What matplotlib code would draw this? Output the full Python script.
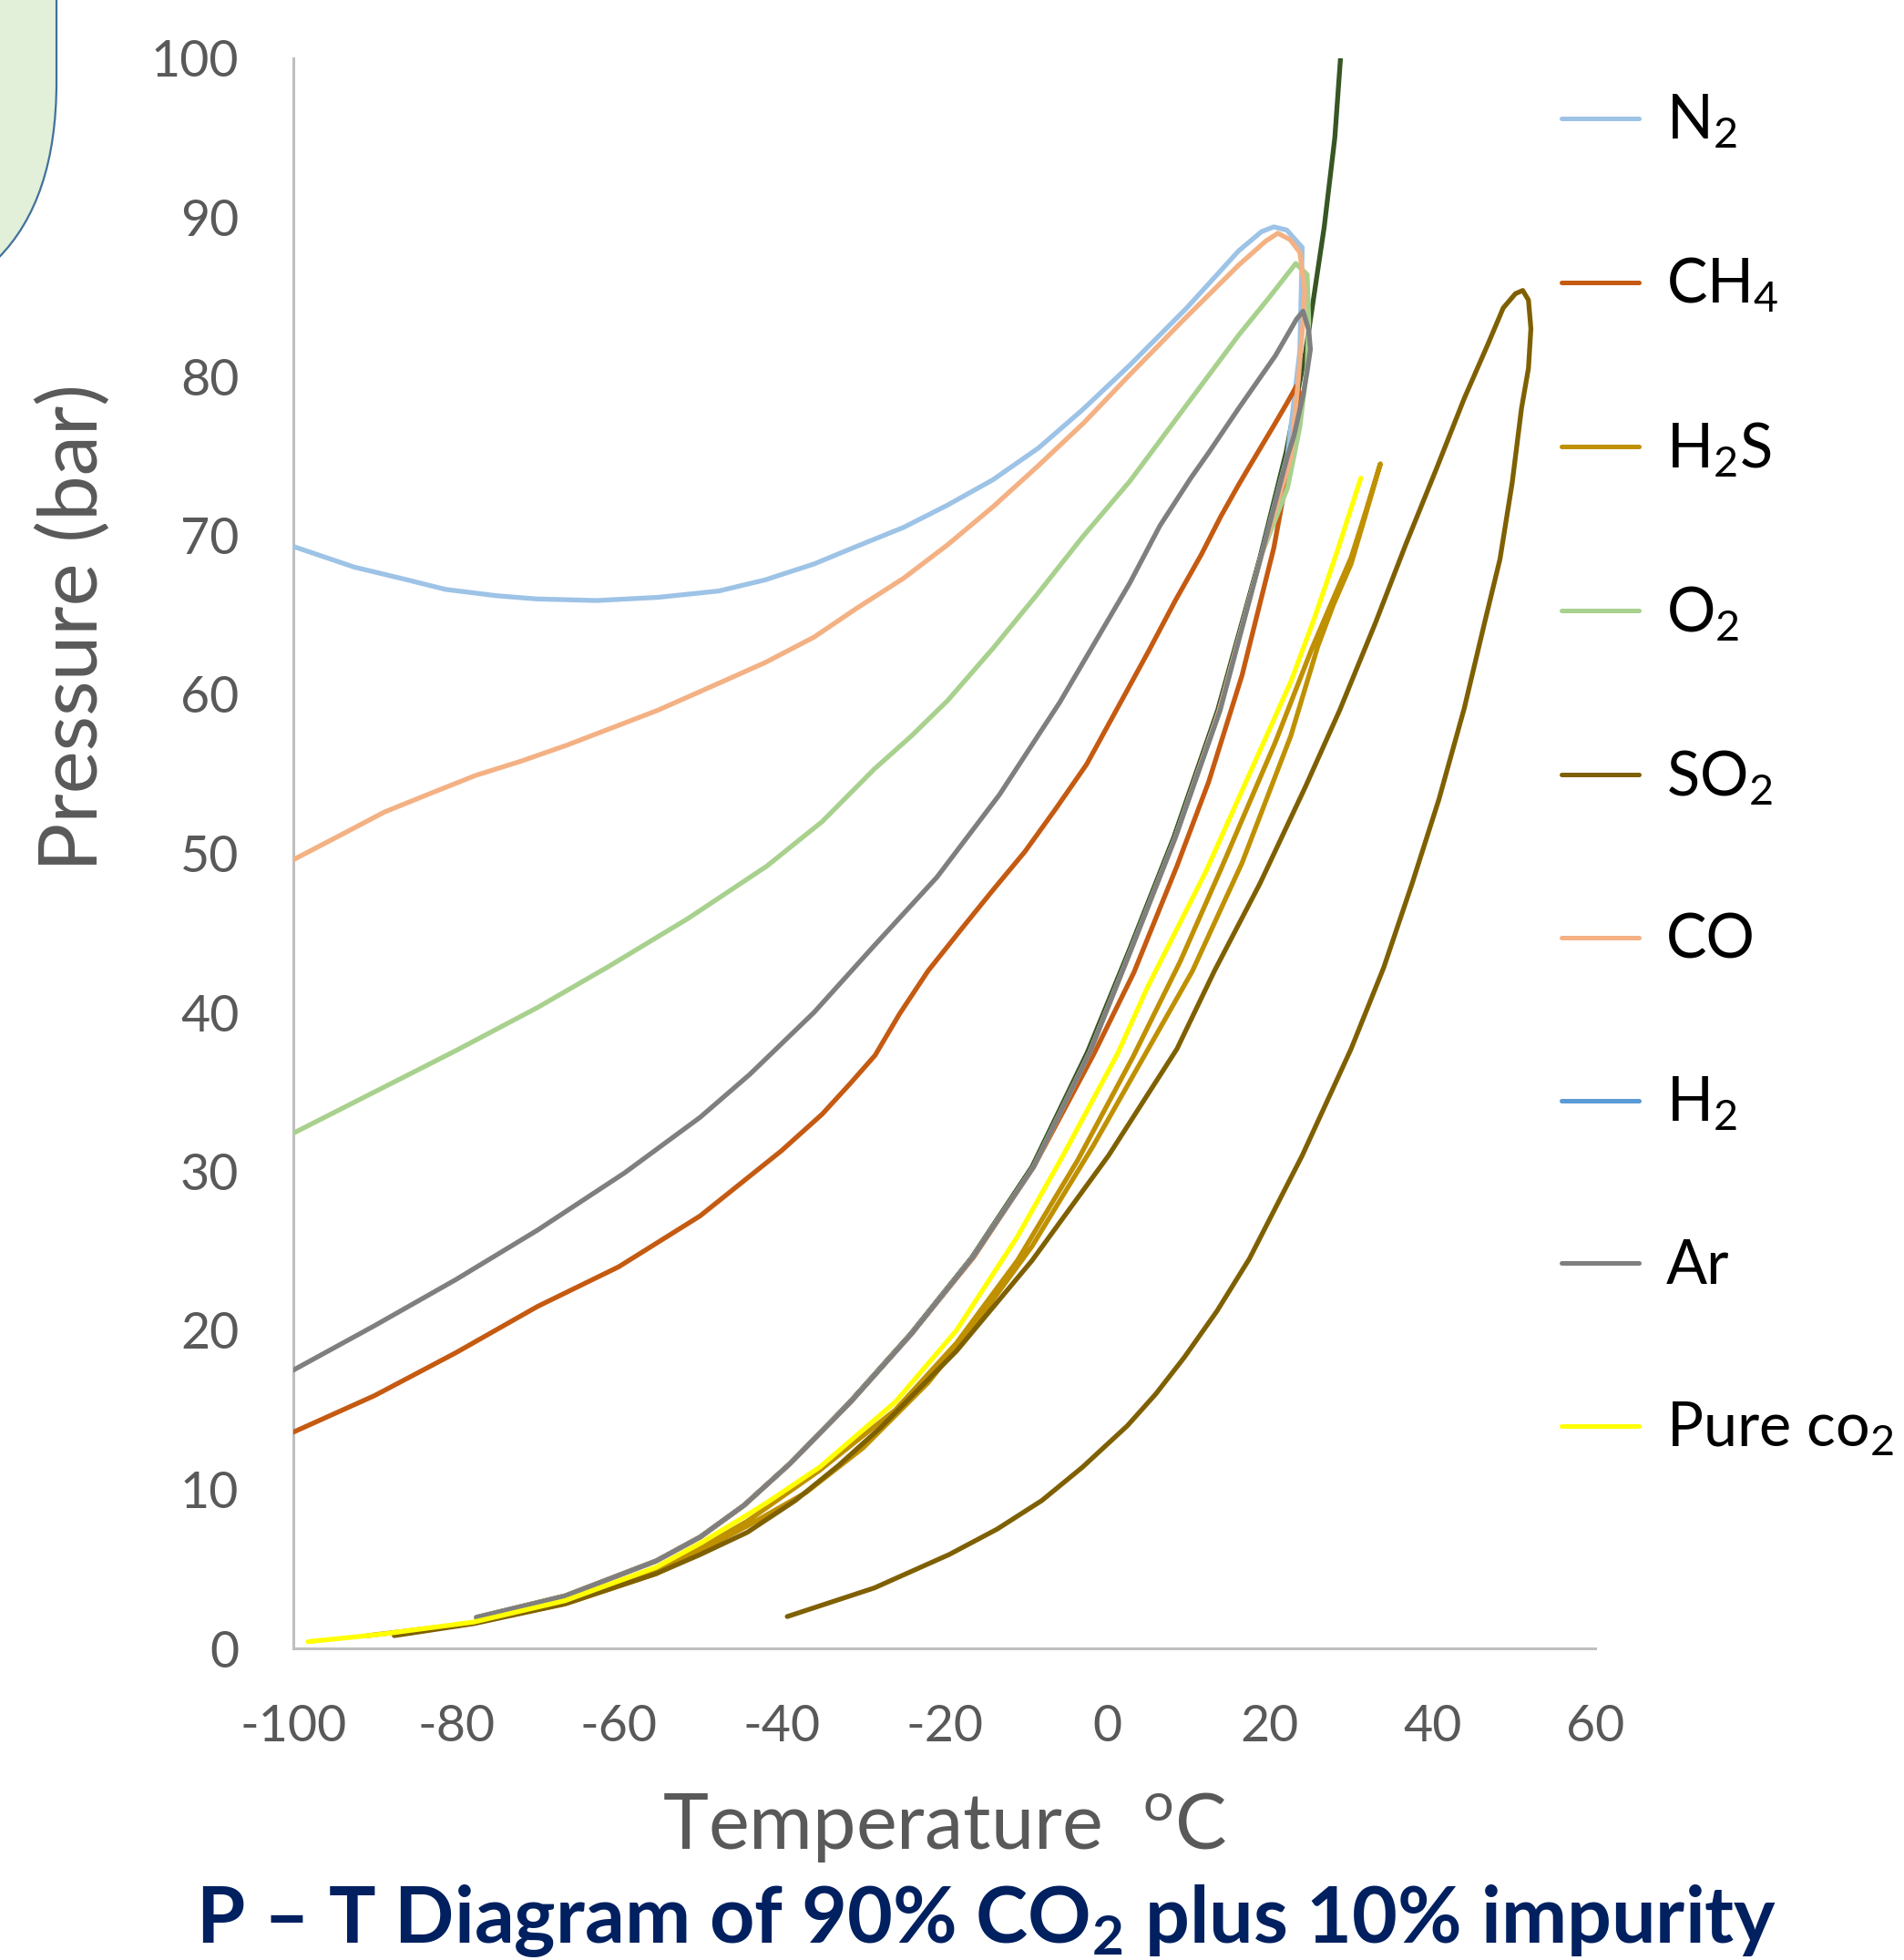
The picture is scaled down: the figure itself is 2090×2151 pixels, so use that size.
import matplotlib
matplotlib.use("Agg")
import matplotlib.pyplot as plt
from matplotlib.patches import FancyBboxPatch
from matplotlib.transforms import IdentityTransform

plt.rcParams['font.family'] = ['Lato', 'DejaVu Sans']
plt.rcParams['mathtext.fontset'] = 'custom'
plt.rcParams['mathtext.rm'] = 'Lato'
plt.rcParams['mathtext.it'] = 'Lato:italic'
plt.rcParams['mathtext.bf'] = 'Lato:bold'
plt.rcParams['axes.unicode_minus'] = False

# ---------------- data (temperature in degC, pressure in bar) ----------------
N2_T = [-100, -92.5, -86, -81.3, -75, -70.1, -62.7, -55.2, -47.7, -42.0, -36.0, -30.8, -25.0, -19.6, -14.0, -8.4,
        -3.0, 2.8, 9.8, 16.2, 19.0, 20.5, 22.1, 24.0, 23.7, 22.2, 18.9, 13.8, 8.4, 3.0, -2.1, -9.0, -16.5, -24.0,
        -31.5, -39.0, -44.6, -50.0, -55.4, -66.6, -77.5]
N2_P = [69.3, 68.0, 67.2, 66.6, 66.2, 66.0, 65.9, 66.1, 66.5, 67.2, 68.2, 69.3, 70.5, 71.9, 73.5, 75.5,
        77.9, 80.7, 84.3, 87.9, 89.1, 89.4, 89.2, 88.1, 81.6, 75.1, 68.6, 59.0, 51.0, 44.0, 37.5, 30.3, 24.6, 19.8,
        15.5, 11.6, 9.0, 7.0, 5.5, 3.3, 1.95]

CH4_T = [-100, -90, -80, -70, -60, -50, -40, -35.0, -31.6, -28.5, -25.5, -22.0, -17.8, -14.0, -10.1, -6.3, -2.5,
         2.0, 5.2, 8.4, 11.6, 14.0, 16.2, 17.7, 20.5, 22.1, 23.3, 23.7, 22.6, 20.5, 16.6, 12.5, 8.6, 3.3, -1.6,
         -9.0, -16.4, -24.0, -31.5, -39.0, -44.6, -50.0, -55.4, -66.6, -77.0]
CH4_P = [13.6, 15.9, 18.6, 21.5, 24.0, 27.2, 31.3, 33.6, 35.5, 37.3, 39.9, 42.6, 45.3, 47.7, 50.1, 52.8, 55.6,
         59.8, 62.8, 65.9, 68.8, 71.2, 73.2, 74.5, 76.9, 78.3, 79.4, 78.9, 75.0, 69.2, 61.2, 54.5, 49.2, 42.5, 37.4,
         30.3, 24.6, 19.8, 15.5, 11.6, 9.0, 7.0, 5.5, 3.3, 2.0]

H2S_T = [-90.9, -77.8, -66.6, -55.4, -50.0, -44.2, -35.3, -26.0, -18.5, -11.0, -3.6, 3.2, 9.0, 14.0, 20.7, 25.2,
         27.8, 30.0, 31.5, 33.6, 31.5, 30.0, 27.8, 25.9, 22.6, 16.6, 10.5, 4.85, -1.7, -9.2, -15.9, -22.0, -30.0,
         -37.0, -44.2, -55.4, -66.6, -80.0]
H2S_P = [0.8, 1.6, 2.9, 4.9, 6.3, 8.0, 11.2, 15.0, 19.2, 24.4, 30.7, 37.2, 43.2, 49.0, 57.0, 62.9,
         66.0, 68.6, 71.0, 74.5, 70.8, 68.2, 65.6, 63.0, 57.4, 49.4, 42.6, 37.5, 31.6, 25.3, 20.6, 16.7, 12.6,
         9.8, 7.7, 4.7, 2.8, 1.4]

O2_T = [-100, -90, -80, -70, -61.2, -51.5, -41.8, -35.0, -28.6, -24.0, -19.6, -14.0, -8.4, -3.0, 2.8, 9.5, 16.2,
        20.0, 23.2, 24.6, 24.8, 24.6, 23.7, 22.2, 19.0, 13.9, 8.4, 3.0, -2.1, -9.0, -16.5, -24.0, -31.5, -39.0,
        -44.6, -50.0, -55.4, -66.6, -77.5]
O2_P = [32.4, 35.0, 37.6, 40.3, 42.9, 45.9, 49.2, 52.0, 55.3, 57.4, 59.6, 62.9, 66.4, 69.9, 73.4, 78.0, 82.6,
        85.0, 87.1, 86.4, 83.5, 80.6, 76.8, 73.0, 68.8, 59.0, 51.0, 44.0, 37.5, 30.3, 24.6, 19.8, 15.5, 11.6,
        9.0, 7.0, 5.5, 3.3, 1.95]

SO2_T = [-87.6, -77.8, -66.6, -55.4, -50.0, -44.2, -38.3, -33.0, -27.8, -18.5, -9.2, 0.2, 8.6, 13.2, 18.8, 24.4,
         28.6, 33.0, 36.7, 40.5, 43.9, 46.8, 48.7, 50.2, 51.1, 51.8, 52.1, 51.8, 50.95, 49.8, 48.3, 46.5, 43.9,
         40.8, 37.5, 34.0, 30.0, 24.0, 17.5, 13.5, 9.5, 6.0, 2.5, -3.0, -8.0, -13.5, -19.4, -28.6, -39.3]
SO2_P = [0.8, 1.56, 2.8, 4.7, 5.9, 7.3, 9.3, 11.5, 13.9, 18.7, 24.4, 31.0, 37.7, 42.6, 48.1, 54.2,
         59.0, 64.5, 69.4, 74.2, 78.6, 82.0, 84.3, 85.2, 85.4, 84.8, 83.0, 80.5, 78.0, 73.3, 68.5, 64.7, 59.1,
         53.4, 48.1, 42.8, 37.7, 31.0, 24.5, 21.2, 18.3, 16.0, 14.0, 11.4, 9.3, 7.5, 5.9, 3.8, 2.0]

CO_T = [-100, -94.0, -88.8, -83.0, -77.6, -72.0, -66.4, -60.8, -55.2, -47.7, -42.0, -36.0, -30.8, -25.0, -19.6,
        -14.0, -8.4, -2.8, 2.8, 9.5, 16.2, 19.5, 21.0, 22.5, 23.7, 24.3, 24.1, 23.5, 22.6, 18.9, 13.8, 8.4, 3.0,
        -2.1, -9.0, -16.5, -24.0, -31.5, -39.0, -44.6, -50.0, -55.4, -66.6, -77.5]
CO_P = [49.6, 51.2, 52.6, 53.8, 54.9, 55.8, 56.8, 57.9, 59.0, 60.7, 62.0, 63.6, 65.4, 67.3, 69.4,
        71.8, 74.4, 77.1, 80.1, 83.6, 87.0, 88.5, 89.0, 88.6, 87.8, 85.4, 83.5, 79.7, 74.9, 68.6, 59.0, 51.0, 44.0,
        37.5, 30.3, 24.6, 19.8, 15.5, 11.6, 9.0, 7.0, 5.5, 3.3, 1.95]

H2_T = []
H2_P = []

AR_T = [-100, -90, -80, -70, -59.3, -50, -43.9, -36, -28.6, -20.9, -13.2, -5.8, 2.8, 6.5, 10.3, 12.5, 16.2, 20.7,
        23.3, 24.1, 24.8, 25.0, 24.6, 24.1, 23.0, 22.2, 19.0, 13.9, 8.4, 3.0, -2.1, -9.0, -16.5, -24.0, -31.5,
        -39.0, -44.6, -50.0, -55.4, -66.6, -77.5]
AR_P = [17.5, 20.3, 23.2, 26.3, 29.9, 33.4, 36.1, 40.0, 44.2, 48.5, 53.7, 59.5, 67.0, 70.6, 73.6, 75.2, 78.0, 81.3,
        83.6, 84.1, 82.9, 81.7, 80.3, 78.8, 76.3, 75.0, 68.8, 59.0, 51.0, 44.0, 37.5, 30.3, 24.6, 19.8, 15.5,
        11.6, 9.0, 7.0, 5.5, 3.3, 1.95]

PURE_T = [-98.2, -89.0, -77.8, -66.6, -55.4, -50.0, -44.2, -41.7, -35.3, -26.0, -18.5, -11.0, -5.4, 1.3, 5.0, 12.1,
          17.0, 22.6, 25.5, 28.3, 31.2]
PURE_P = [0.42, 0.9, 1.66, 3.0, 5.1, 6.6, 8.4, 9.2, 11.4, 15.5, 20.0, 25.9, 31.0, 37.4, 41.6, 48.8,
          54.4, 60.8, 64.8, 69.0, 73.6]

# unlabeled dark green curve (not in the legend)
DG_T = [-77.5, -66.6, -55.4, -50.0, -44.6, -39.0, -31.6, -24.1, -16.6, -9.2, -2.4, 2.8, 8.2, 13.6, 18.8, 22.0,
        24.4, 26.7, 28.0, 28.7]
DG_P = [1.95, 3.3, 5.5, 7.0, 9.0, 11.6, 15.5, 19.8, 24.6, 30.3, 37.5, 44.0, 51.0, 59.0, 68.6, 75.2,
        81.5, 89.4, 95.0, 100.0]

X_TICKS = [-100, -80, -60, -40, -20, 0, 20, 40, 60]
Y_TICKS = [0, 10, 20, 30, 40, 50, 60, 70, 80, 90, 100]

series = [
    ("N2", r"N$\mathregular{_2}$", N2_T, N2_P, "#9DC3E6"),
    ("CH4", r"CH$\mathregular{_4}$", CH4_T, CH4_P, "#C55A11"),
    ("H2S", r"H$\mathregular{_2}$S", H2S_T, H2S_P, "#BF9000"),
    ("O2", r"O$\mathregular{_2}$", O2_T, O2_P, "#A9D18E"),
    ("SO2", r"SO$\mathregular{_2}$", SO2_T, SO2_P, "#7F6000"),
    ("CO", "CO", CO_T, CO_P, "#F4B183"),
    ("H2", r"H$\mathregular{_2}$", H2_T, H2_P, "#5B9BD5"),
    ("Ar", "Ar", AR_T, AR_P, "#7F7F7F"),
    ("Pure", r"Pure co$\mathregular{_2}$", PURE_T, PURE_P, "#FFFF00"),
]

# ---------------- figure ----------------
W, H = 2090, 2151
fig = plt.figure(figsize=(W / 100, H / 100), dpi=100)
fig.patch.set_facecolor("white")

# decorative rounded box at top-left corner
box = FancyBboxPatch((-600, H - 348.6), 662, 700,
                     boxstyle="round,pad=0,rounding_size=258.6",
                     transform=IdentityTransform(), facecolor="#E2EFD9",
                     edgecolor="#41719C", linewidth=1.6, zorder=0)
fig.add_artist(box)

ax = fig.add_axes([322 / W, 1 - 1809 / H, (1751 - 322) / W, (1809 - 64) / H])
ax.set_facecolor("none")

lw = 3.8
ax.plot(DG_T, DG_P, color="#375623", lw=lw, label="_nolegend_", solid_joinstyle="round",
        solid_capstyle="round", zorder=2)
handles = []
for i, (key, lab, t, p, c) in enumerate(series):
    ln, = ax.plot(t, p, color=c, lw=lw, label=lab, solid_joinstyle="round",
                  solid_capstyle="round", zorder=3 + i * 0.1)
    handles.append(ln)

ax.set_xlim(-100, 60)
ax.set_ylim(0, 100)
ax.set_xticks(X_TICKS)
ax.set_yticks(Y_TICKS)
ax.tick_params(axis="both", length=0, labelsize=40, labelcolor="#595959")
ax.tick_params(axis="x", pad=44)
ax.tick_params(axis="y", pad=43)
for s in ["top", "right"]:
    ax.spines[s].set_visible(False)
for s in ["left", "bottom"]:
    ax.spines[s].set_color("#BFBFBF")
    ax.spines[s].set_linewidth(2.2)

fig.text(82 / W, 1 - 689 / H, "Pressure (bar)", rotation=90, ha="center", va="center",
         fontsize=64, color="#595959")
fig.text(1037 / W, 1 - 2029 / H, r"Temperature  $\mathregular{^o}$C", ha="center", va="baseline",
         fontsize=61, color="#595959")
fig.text(1083 / W, 1 - 2132 / H, r"P – T Diagram of 90% CO$\mathregular{_2}$ plus 10% impurity",
         ha="center", va="baseline", fontsize=62, fontweight="bold", color="#002060")

leg = fig.legend(handles, [s[1] for s in series], loc="upper left",
                 bbox_to_anchor=(1714 / W, 1 - 102 / H), frameon=False, fontsize=48,
                 handlelength=1.27, handletextpad=0.45, labelspacing=1.74,
                 borderpad=0, borderaxespad=0)
for t in leg.get_texts():
    t.set_color("black")
for l in leg.get_lines():
    l.set_linewidth(3.6)

fig.savefig("out.png", dpi=100, facecolor="white")
